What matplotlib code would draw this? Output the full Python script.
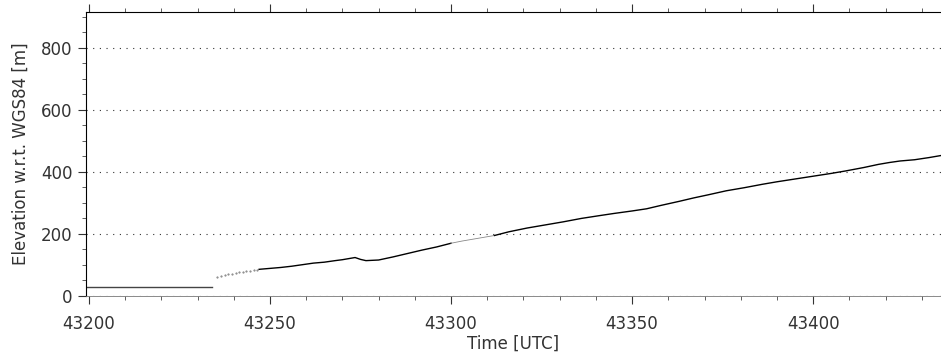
import matplotlib
matplotlib.use('Agg')
import matplotlib.pyplot as plt
from matplotlib.ticker import MultipleLocator

# flat segment before the climb
t_flat = [43199, 43234]
z_flat = [30, 30]

# sparse / noisy start of the climb
t_sparse = [43235.5, 43236.5, 43237.5, 43238.5, 43239.5, 43240.5, 43241.5, 43242.5, 43243.5, 43244.5, 43245.5, 43246.5]
z_sparse = [62, 65, 67, 70, 72, 74, 77, 78, 79, 81, 83, 84]

# main climb
t_main = [43247, 43250, 43253, 43256, 43259, 43262, 43265, 43268, 43270, 43272, 43273.5, 43275, 43276.5, 43280,
          43284, 43288, 43292, 43296, 43300]
z_main = [86, 89, 92, 96, 101, 106, 109, 114, 117, 121, 124, 118, 114, 116,
          126, 137, 148, 158, 170]

# faint section
t_faint = [43300, 43303, 43306, 43309, 43312]
z_faint = [170, 177, 183, 189, 195]

t_end = [43312, 43316, 43321, 43326, 43331, 43336, 43341, 43345, 43350, 43354, 43358, 43363, 43367, 43371,
         43376, 43381, 43386, 43390, 43395, 43400, 43405, 43409, 43414, 43418, 43421, 43424, 43428, 43432, 43436]
z_end = [195, 207, 219, 229, 239, 250, 259, 266, 274, 281, 292, 305, 316, 326,
         339, 349, 360, 368, 377, 386, 395, 403, 414, 424, 430, 435, 439, 446, 454]

fig = plt.figure(figsize=(9.41, 3.61), dpi=100)
ax = fig.add_axes([0.0914, 0.18, 0.9086, 0.7868])

ax.plot(t_flat, z_flat, color='#444444', linewidth=1.0)
ax.plot(t_sparse, z_sparse, linestyle='none', marker='.', markersize=1.0, color='#777777')
ax.plot(t_main, z_main, color='black', linewidth=1.0)
ax.plot(t_faint, z_faint, color='#888888', linewidth=0.6)
ax.plot(t_end, z_end, color='black', linewidth=1.0)

for yv in [0, 200, 400, 600, 800]:
    ax.axhline(yv, color='#333333', linestyle=(0, (1, 5)), linewidth=0.8, zorder=0)

ax.set_xlim(43199.2, 43435.3)
ax.set_ylim(0, 915)

ax.xaxis.set_major_locator(MultipleLocator(50))
ax.xaxis.set_minor_locator(MultipleLocator(10))
ax.yaxis.set_major_locator(MultipleLocator(200))
ax.yaxis.set_minor_locator(MultipleLocator(50))

ax.tick_params(axis='x', which='both', direction='out', top=True, bottom=True, labeltop=False)
ax.tick_params(axis='y', which='both', direction='out', left=True, right=False)
ax.tick_params(which='major', length=6, width=0.8, labelsize=12, colors='#333333')
ax.tick_params(axis='x', which='major', pad=8)
ax.tick_params(which='minor', length=3, width=0.6, colors='#444444')

ax.spines['right'].set_visible(False)
ax.spines['bottom'].set_color('#777777')
ax.spines['bottom'].set_linewidth(0.6)

ax.set_xlabel('Time [UTC]', fontsize=12, color='#333333', labelpad=1)
ax.set_ylabel('Elevation w.r.t. WGS84 [m]', fontsize=12, color='#333333', labelpad=8)

plt.savefig('out.png', dpi=100)
plt.close()
